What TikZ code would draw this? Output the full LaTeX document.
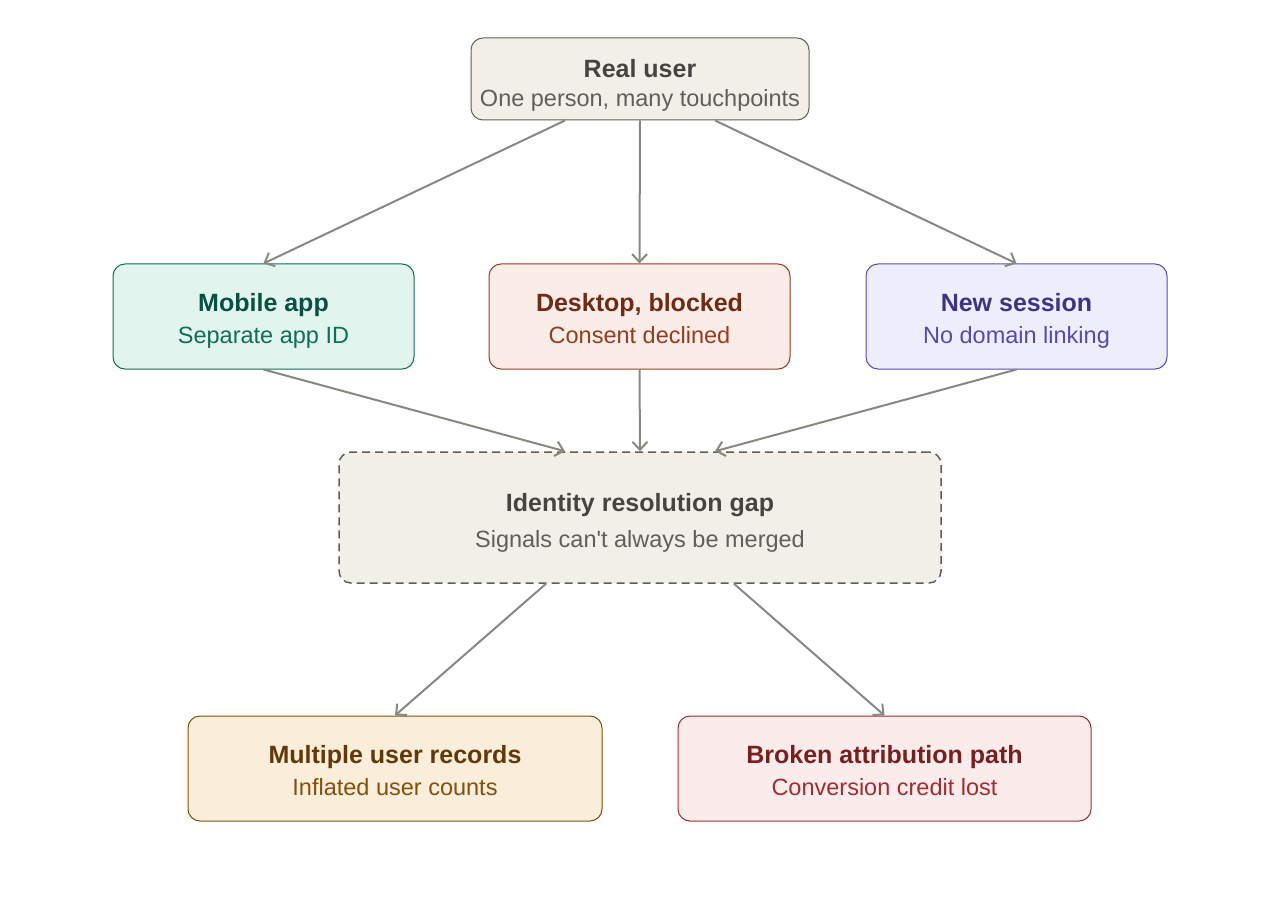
\documentclass[tikz,border=0pt]{standalone}
\usepackage{fontspec}
\setmainfont{Liberation Sans}[Ligatures=TeXOff]
\usetikzlibrary{arrows.meta,calc}
\definecolor{arr}{HTML}{888780}
\definecolor{grayF}{HTML}{F1EFE8}\definecolor{grayB}{HTML}{5F5E5A}\definecolor{grayT}{HTML}{444441}
\definecolor{tealF}{HTML}{E1F5EE}\definecolor{tealB}{HTML}{0F6E56}\definecolor{tealT}{HTML}{085041}
\definecolor{coralF}{HTML}{FAECE7}\definecolor{coralB}{HTML}{993C1D}\definecolor{coralT}{HTML}{712B13}
\definecolor{purpF}{HTML}{EEEDFE}\definecolor{purpB}{HTML}{534AB7}\definecolor{purpT}{HTML}{3C3489}
\definecolor{ambF}{HTML}{FAEEDA}\definecolor{ambB}{HTML}{854F0B}\definecolor{ambT}{HTML}{633806}
\definecolor{redF}{HTML}{FCEBEB}\definecolor{redB}{HTML}{A32D2D}\definecolor{redT}{HTML}{791F1F}
\tikzset{
  box/.style={draw, rounded corners=12pt, line width=1pt, inner sep=0pt},
  ttl/.style={anchor=base, inner sep=0pt, font=\fontsize{25}{29}\selectfont\bfseries},
  sub/.style={anchor=base, inner sep=0pt, font=\fontsize{23.5}{28}\selectfont},
  conn/.style={draw=arr, line width=2pt, -{Straight Barb[length=8pt,width=15pt,line width=2pt]}},
}
\begin{document}
\begin{tikzpicture}[x=1pt,y=-1pt]
\useasboundingbox (0,0) rectangle (1280,904);
% boxes
\node[box, draw=grayB, fill=grayF, minimum width=338pt, minimum height=82pt] (ru) at (640,79) {};
\node[box, draw=tealB, fill=tealF, minimum width=301pt, minimum height=105pt] (ma) at (263.5,316.5) {};
\node[box, draw=coralB, fill=coralF, minimum width=301pt, minimum height=105pt] (db) at (639.5,316.5) {};
\node[box, draw=purpB, fill=purpF, minimum width=301pt, minimum height=105pt] (ns) at (1016.5,316.5) {};
\node[box, draw=grayB, fill=grayF, dash pattern=on 8pt off 5pt, line width=1.5pt, minimum width=602pt, minimum height=131pt] (gap) at (640,517.5) {};
\node[box, draw=ambB, fill=ambF, minimum width=414pt, minimum height=105pt] (mu) at (395,768.5) {};
\node[box, draw=redB, fill=redF, minimum width=413pt, minimum height=105pt] (br) at (884.5,768.5) {};
% texts
\node[ttl, text=grayT] (ruT) at (640,78) {Real user};
\node[sub, text=grayB] (ruS) at (640,107) {One person, many touchpoints};
\node[ttl, text=tealT] (maT) at (263.5,311) {Mobile app};
\node[sub, text=tealB] (maS) at (263.5,343) {Separate app ID};
\node[ttl, text=coralT] (dbT) at (639.5,311) {Desktop, blocked};
\node[sub, text=coralB] (dbS) at (639.5,343) {Consent declined};
\node[ttl, text=purpT] (nsT) at (1016.5,311) {New session};
\node[sub, text=purpB] (nsS) at (1016.5,343) {No domain linking};
\node[ttl, text=grayT] (gapT) at (640,511) {Identity resolution gap};
\node[sub, text=grayB] (gapS) at (640,547) {Signals can't always be merged};
\node[ttl, text=ambT] (muT) at (395,763) {Multiple user records};
\node[sub, text=ambB] (muS) at (395,795) {Inflated user counts};
\node[ttl, text=redT] (brT) at (884.5,763) {Broken attribution path};
\node[sub, text=redB] (brS) at (884.5,795) {Conversion credit lost};
% connectors
\draw[conn] ($(ru.south)+(-75,0)$) -- (ma.north);
\draw[conn] (ru.south) -- (db.north);
\draw[conn] ($(ru.south)+(75,0)$) -- (ns.north);
\draw[conn] (ma.south) -- ($(gap.north)+(-75,0)$);
\draw[conn] (db.south) -- (gap.north);
\draw[conn] (ns.south) -- ($(gap.north)+(75,0)$);
\draw[conn] ($(gap.south)+(-94,0)$) -- (mu.north);
\draw[conn] ($(gap.south)+(94,0)$) -- (br.north);
\end{tikzpicture}
\end{document}
